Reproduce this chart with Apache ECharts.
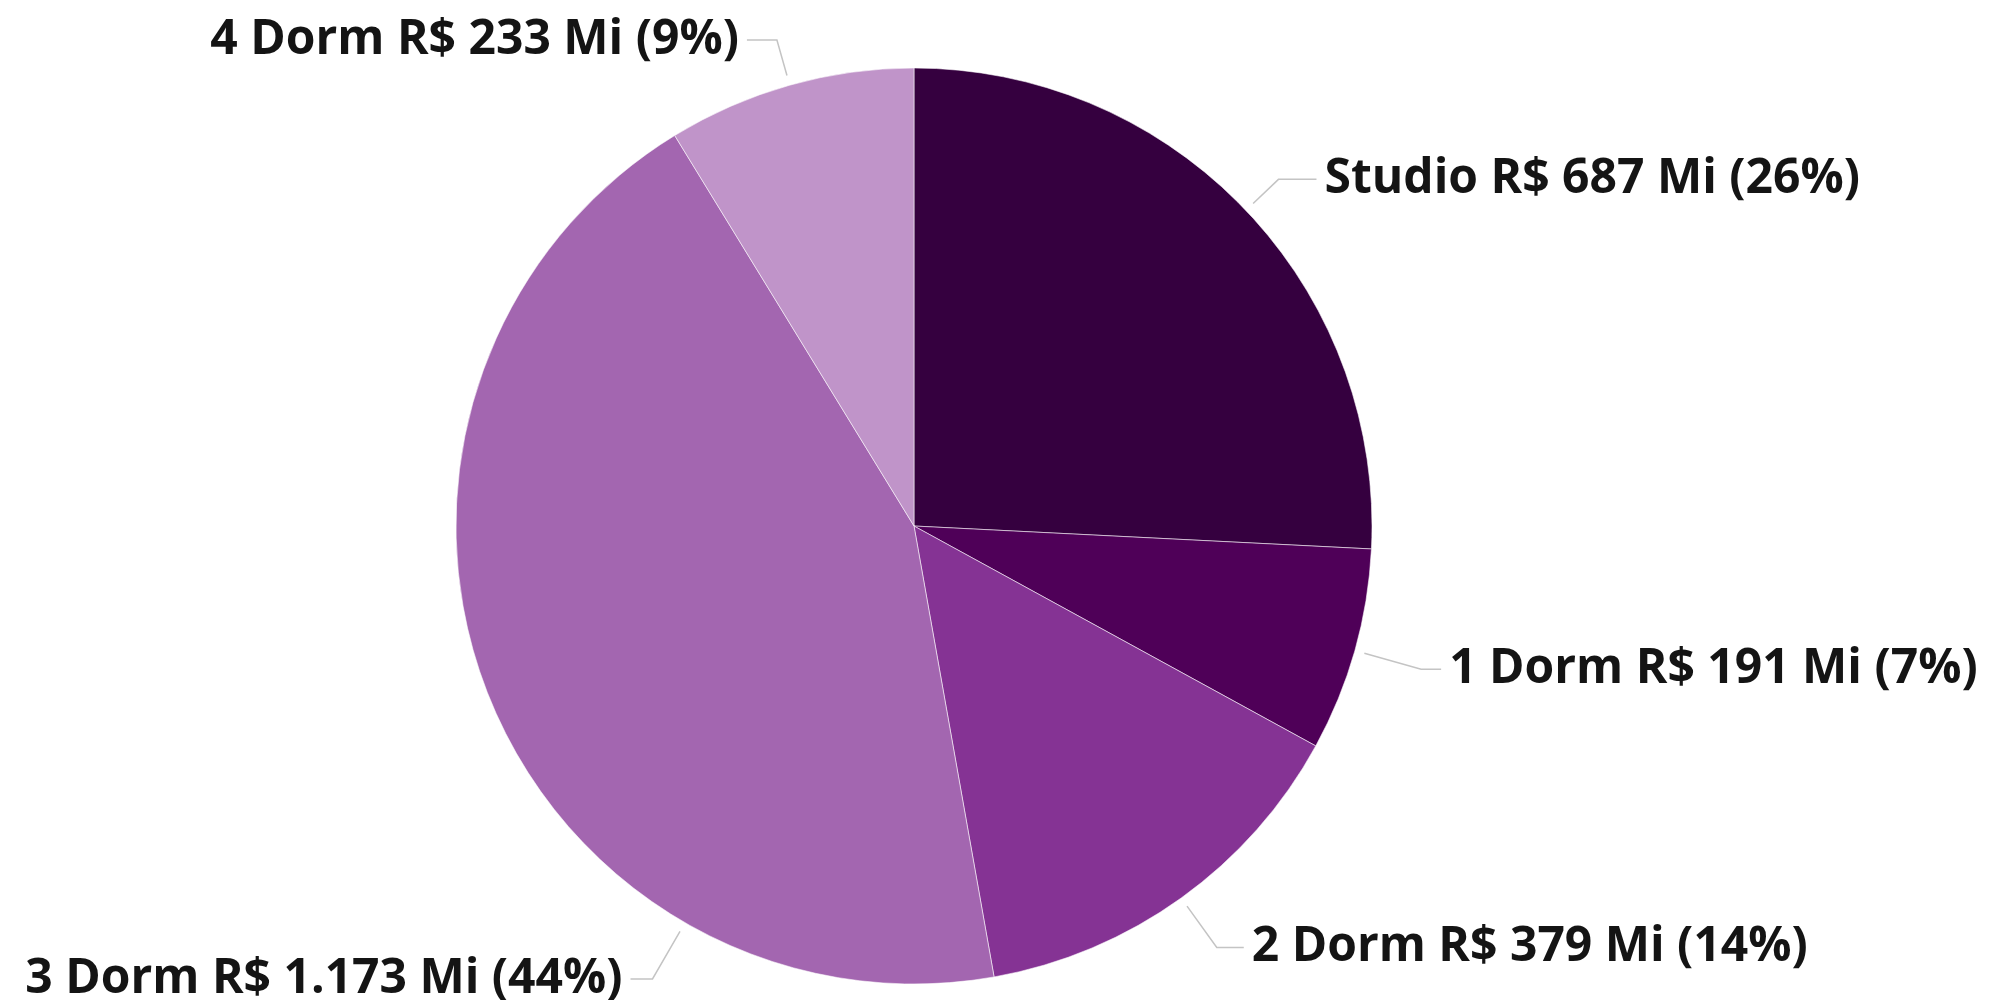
<!DOCTYPE html>
<html>
<head>
<meta charset="utf-8">
<script src="https://cdn.jsdelivr.net/npm/echarts@6/dist/echarts.min.js"></script>
<style>
html,body{margin:0;padding:0;background:#fff;}
#chart{width:1991px;height:1000px;}
</style>
</head>
<body>
<div id="chart"></div>
<script>
const categories = ['Studio', '1 Dorm', '2 Dorm', '3 Dorm', '4 Dorm'];
const values = [687, 191, 379, 1173, 233];
const colors = ['#35003f', '#4f0058', '#853394', '#a366b0', '#c094c9'];

// label guide styling (lengths in px), anchor override for the big slice
const lineLen1 = [45, 69, 61, 65, 47];
const lineLen2 = [38, 20, 27, 22, 30];
const anchorAngle = [null, null, null, 210, null];

const CX = 914, CY = 526, R = 458, GAP = 10, TEXT_GAP = 8;

function fmt(v) {
  return String(v).replace(/\B(?=(\d{3})+(?!\d))/g, '.');
}

const total = values.reduce((a, b) => a + b, 0);
const midAngles = [];
let cum = 0;
values.forEach(v => { midAngles.push((cum + v / 2) / total * 360); cum += v; });

function polar(rad, deg) {
  const a = deg * Math.PI / 180;
  return [CX + rad * Math.sin(a), CY - rad * Math.cos(a)];
}

const chart = echarts.init(document.getElementById('chart'));
chart.setOption({
  backgroundColor: '#ffffff',
  animation: false,
  series: [{
    type: 'pie',
    center: [CX, CY],
    radius: [0, R],
    startAngle: 90,
    clockwise: true,
    avoidLabelOverlap: false,
    data: categories.map((c, i) => ({
      name: c,
      value: values[i],
      itemStyle: { color: colors[i] }
    })),
    itemStyle: { borderColor: 'rgba(255,255,255,0.55)', borderWidth: 1 },
    label: {
      show: true,
      position: 'outside',
      overflow: 'none',
      fontFamily: '"Open Sans", "Noto Sans", sans-serif',
      fontWeight: 'bold',
      fontSize: 48,
      color: '#141414',
      formatter: p => p.name + ' R$ ' + fmt(p.value) + ' Mi (' + Math.round(p.value / total * 100) + '%)'
    },
    labelLine: {
      show: true,
      lineStyle: { color: '#c4c4c4', width: 1.5 }
    },
    emphasis: { disabled: true },
    labelLayout: function (params) {
      const i = params.dataIndex;
      const ang = anchorAngle[i] != null ? anchorAngle[i] : midAngles[i];
      const side = Math.sin(ang * Math.PI / 180) >= 0 ? 1 : -1;
      const p0 = polar(R + GAP, ang);
      const p1 = polar(R + lineLen1[i], ang);
      const p2 = [p1[0] + side * lineLen2[i], p1[1]];
      return {
        x: p2[0] + side * TEXT_GAP,
        y: p2[1],
        align: side > 0 ? 'left' : 'right',
        verticalAlign: 'middle',
        labelLinePoints: [p0, p1, p2]
      };
    }
  }]
});
</script>
</body>
</html>
